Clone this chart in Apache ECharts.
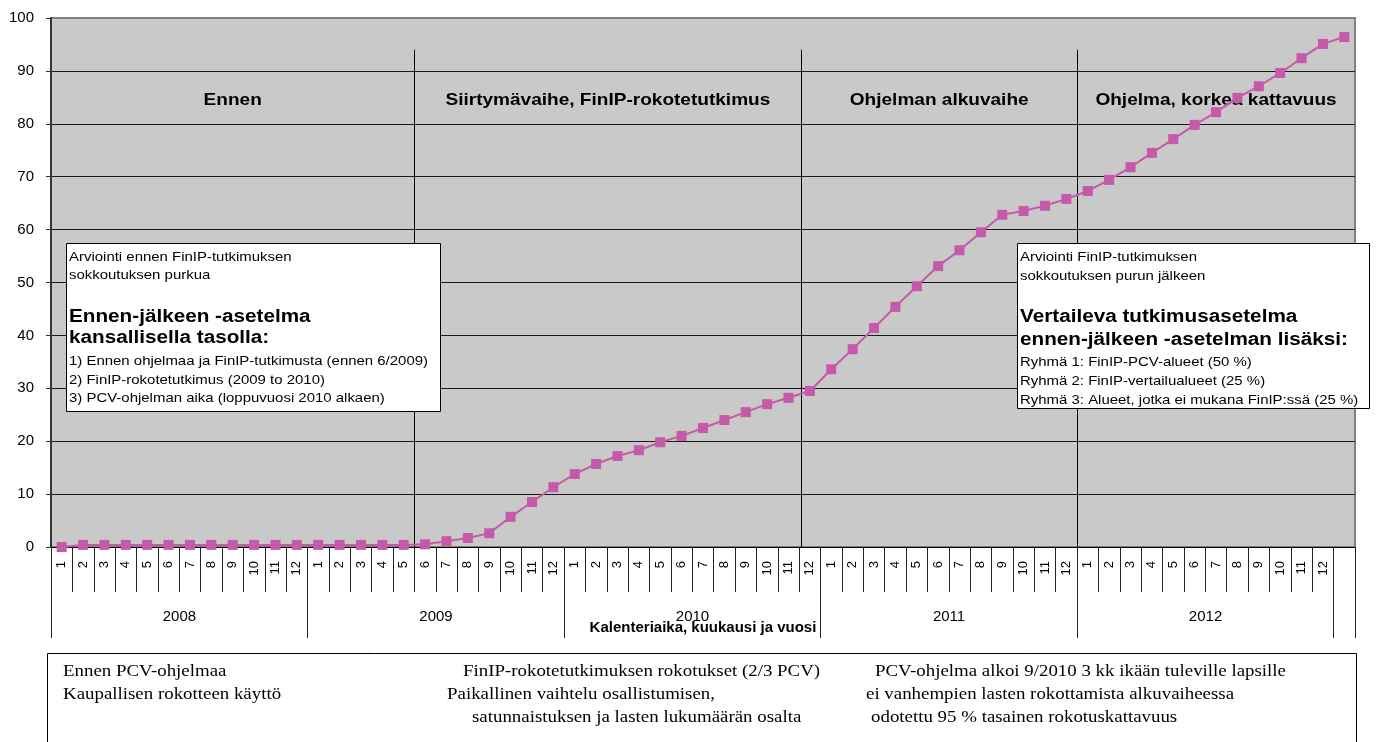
<!DOCTYPE html>
<html>
<head>
<meta charset="utf-8">
<title>FinIP PCV</title>
<script src="https://cdn.jsdelivr.net/npm/echarts@6/dist/echarts.min.js"></script>
<style>
  html, body { margin: 0; padding: 0; background: #ffffff; }
  #chart { width: 1376px; height: 742px; }
</style>
</head>
<body>
<div id="chart"></div>
<script>
// kuukaudet ja vuodet (viimeinen kategoria ilman nimeä)
const months = ['1', '2', '3', '4', '5', '6', '7', '8', '9', '10', '11', '12']
const yearLabels = ['2008', '2009', '2010', '2011', '2012']
const monthLabels = yearLabels.flatMap(() => months).concat([''])

// rokotuskattavuus %, yksi arvo per kuukausi
const coverage = [
  0.0, 0.4, 0.4, 0.4, 0.4, 0.4, 0.4, 0.4, 0.4, 0.4, 0.4, 0.4,
  0.4, 0.4, 0.4, 0.4, 0.4, 0.5, 1.1, 1.7, 2.6, 5.7, 8.5, 11.3,
  13.8, 15.7, 17.2, 18.3, 19.8, 21.0, 22.5, 24.0, 25.5, 27.0, 28.2, 29.5,
  33.6, 37.4, 41.4, 45.4, 49.3, 53.1, 56.1, 59.5, 62.8, 63.5, 64.5, 65.8,
  67.3, 69.4, 71.8, 74.5, 77.1, 79.8, 82.2, 84.9, 87.1, 89.6, 92.4, 95.1,
  96.4
]

// vaiheet: rajat kuukausien asteikolla
const phaseNames = ['Ennen', 'Siirtymävaihe, FinIP-rokotetutkimus', 'Ohjelman alkuvaihe', 'Ohjelma, korkea kattavuus']
const phaseBounds = [0, 17, 35.1, 48, 61]
const phaseLineTop = 94
const phaseLabelY = 84.5

const yTicks = { min: 0, max: 100, interval: 10 }

const leftBoxLines = [
  'Arviointi ennen FinIP-tutkimuksen',
  'sokkoutuksen purkua',
  'Ennen-jälkeen -asetelma',
  'kansallisella tasolla:',
  '1) Ennen ohjelmaa ja FinIP-tutkimusta (ennen 6/2009)',
  '2) FinIP-rokotetutkimus (2009 to 2010)',
  '3) PCV-ohjelman aika (loppuvuosi 2010 alkaen)'
]
const rightBoxLines = [
  'Arviointi FinIP-tutkimuksen',
  'sokkoutuksen purun jälkeen',
  'Vertaileva tutkimusasetelma',
  'ennen-jälkeen -asetelman lisäksi:',
  'Ryhmä 1: FinIP-PCV-alueet (50 %)',
  'Ryhmä 2: FinIP-vertailualueet (25 %)',
  'Ryhmä 3: Alueet, jotka ei mukana FinIP:ssä (25 %)'
]
const bottomLines = [
  ['Ennen PCV-ohjelmaa', 'Kaupallisen rokotteen käyttö'],
  ['FinIP-rokotetutkimuksen rokotukset (2/3 PCV)', 'Paikallinen vaihtelu osallistumisen,', 'satunnaistuksen ja lasten lukumäärän osalta'],
  ['PCV-ohjelma alkoi 9/2010 3 kk ikään tuleville lapsille', 'ei vanhempien lasten rokottamista alkuvaiheessa', 'odotettu 95 % tasainen rokotuskattavuus']
]

const SANS = 'Liberation Sans, Arial, sans-serif'
const SERIF = 'Liberation Serif, Times New Roman, serif'
const STRETCH = 1.15
const TOP_Z = 100

// tekstilaatikko (rivit, sijainnit)
function textBox(x, y, w, h, lines, lineY, textX) {
  const children = [{
    type: 'rect',
    z: TOP_Z,
    shape: { x: x, y: y, width: w, height: h },
    style: { fill: '#ffffff', stroke: '#000000', lineWidth: 1 }
  }]
  lines.forEach((t, i) => {
    const bold = i === 2 || i === 3
    children.push({
      type: 'text',
      z: TOP_Z + 1,
      x: textX,
      y: lineY[i],
      scaleX: STRETCH,
      style: {
        text: t,
        font: (bold ? 'bold 18px ' : '13px ') + SANS,
        fill: '#000000',
        verticalAlign: 'middle'
      }
    })
  })
  return children
}

const bottomX = [63, 447, 866]
const bottomIndent = [[0, 0], [16, 0, 25], [9, 0, 5]]
const bottomBox = [{
  type: 'rect',
  z: TOP_Z,
  shape: { x: 47.5, y: 653.5, width: 1309, height: 120 },
  style: { fill: '#ffffff', stroke: '#000000', lineWidth: 1 }
}]
bottomLines.forEach((col, c) => {
  col.forEach((t, r) => {
    bottomBox.push({
      type: 'text',
      z: TOP_Z + 1,
      x: bottomX[c] + bottomIndent[c][r],
      y: 672 + r * 23,
      scaleX: 1.18,
      style: { text: t, font: '16px ' + SERIF, fill: '#000000', verticalAlign: 'middle' }
    })
  })
})

const option = {
  backgroundColor: '#ffffff',
  animation: false,
  grid: {
    left: 51,
    right: 21,
    top: 18,
    bottom: 195,
    show: true,
    backgroundColor: '#c9c9c9',
    borderColor: '#808080',
    borderWidth: 2
  },
  xAxis: [
    {
      type: 'category',
      data: monthLabels,
      position: 'bottom',
      boundaryGap: true,
      axisLine: { show: true, lineStyle: { color: '#000000', width: 1 } },
      axisTick: { show: true, interval: 0, length: 45, lineStyle: { color: '#222222', width: 1 } },
      axisLabel: {
        interval: 0,
        rotate: 90,
        margin: 14,
        fontSize: 13,
        color: '#000000',
        fontFamily: SANS
      },
      name: 'Kalenteriaika, kuukausi ja vuosi',
      nameLocation: 'middle',
      nameGap: 73,
      nameTextStyle: { fontSize: 15, fontWeight: 'bold', color: '#000000', fontFamily: SANS }
    },
    {
      type: 'category',
      data: monthLabels,
      position: 'bottom',
      boundaryGap: true,
      axisLine: { show: false },
      axisTick: {
        show: true,
        interval: (index) => index % 12 === 0,
        length: 91,
        lineStyle: { color: '#222222', width: 1 }
      },
      axisLabel: {
        interval: (index) => index % 12 === 6 && index < 60,
        formatter: (value, index) => yearLabels[Math.floor(index / 12)],
        margin: 62,
        padding: [0, 21, 0, 0],
        fontSize: 15,
        color: '#000000',
        fontFamily: SANS
      }
    },
    {
      // apuakseli vaiheiden rajoille
      type: 'value',
      show: false,
      min: 0,
      max: monthLabels.length
    }
  ],
  yAxis: {
    type: 'value',
    min: yTicks.min,
    max: yTicks.max,
    interval: yTicks.interval,
    axisLine: { show: true, lineStyle: { color: '#333333', width: 2 } },
    axisTick: { show: true, length: 5, lineStyle: { color: '#333333' } },
    axisLabel: { fontSize: 15, color: '#000000', margin: 17, fontFamily: SANS },
    splitLine: { show: true, showMaxLine: false, lineStyle: { color: '#1a1a1a', width: 1 } }
  },
  series: [
    {
      type: 'custom',
      xAxisIndex: 2,
      yAxisIndex: 0,
      z: 3,
      data: phaseNames.map((n, i) => [phaseBounds[i], phaseBounds[i + 1]]),
      renderItem: (params, api) => {
        const from = api.value(0)
        const to = api.value(1)
        const mid = api.coord([(from + to) / 2, phaseLabelY])
        const children = [{
          type: 'text',
          x: mid[0],
          y: mid[1],
          scaleX: 1.12,
          style: {
            text: phaseNames[params.dataIndex],
            font: 'bold 17px ' + SANS,
            fill: '#000000',
            align: 'center',
            verticalAlign: 'middle'
          }
        }]
        if (params.dataIndex > 0) {
          const p0 = api.coord([from, 0])
          const p1 = api.coord([from, phaseLineTop])
          children.push({
            type: 'line',
            shape: { x1: Math.round(p0[0]) + 0.5, y1: p0[1], x2: Math.round(p1[0]) + 0.5, y2: p1[1] },
            style: { stroke: '#000000', lineWidth: 1 }
          })
        }
        return { type: 'group', children: children }
      }
    },
    {
      type: 'line',
      xAxisIndex: 0,
      yAxisIndex: 0,
      z: 5,
      data: coverage,
      symbol: 'rect',
      symbolSize: 10,
      lineStyle: { color: '#c55aa9', width: 2 },
      itemStyle: { color: '#c55aa9' }
    }
  ],
  graphic: {
    elements: []
      .concat(textBox(66.5, 243.5, 374, 168, leftBoxLines, [257, 275, 317, 338, 361, 380, 398], 69))
      .concat(textBox(1017.5, 243.5, 352, 165, rightBoxLines, [257, 276, 317, 340, 362, 381, 400], 1020))
      .concat(bottomBox)
  }
}

const myChart = echarts.init(document.getElementById('chart'))
myChart.setOption(option)
</script>
</body>
</html>
